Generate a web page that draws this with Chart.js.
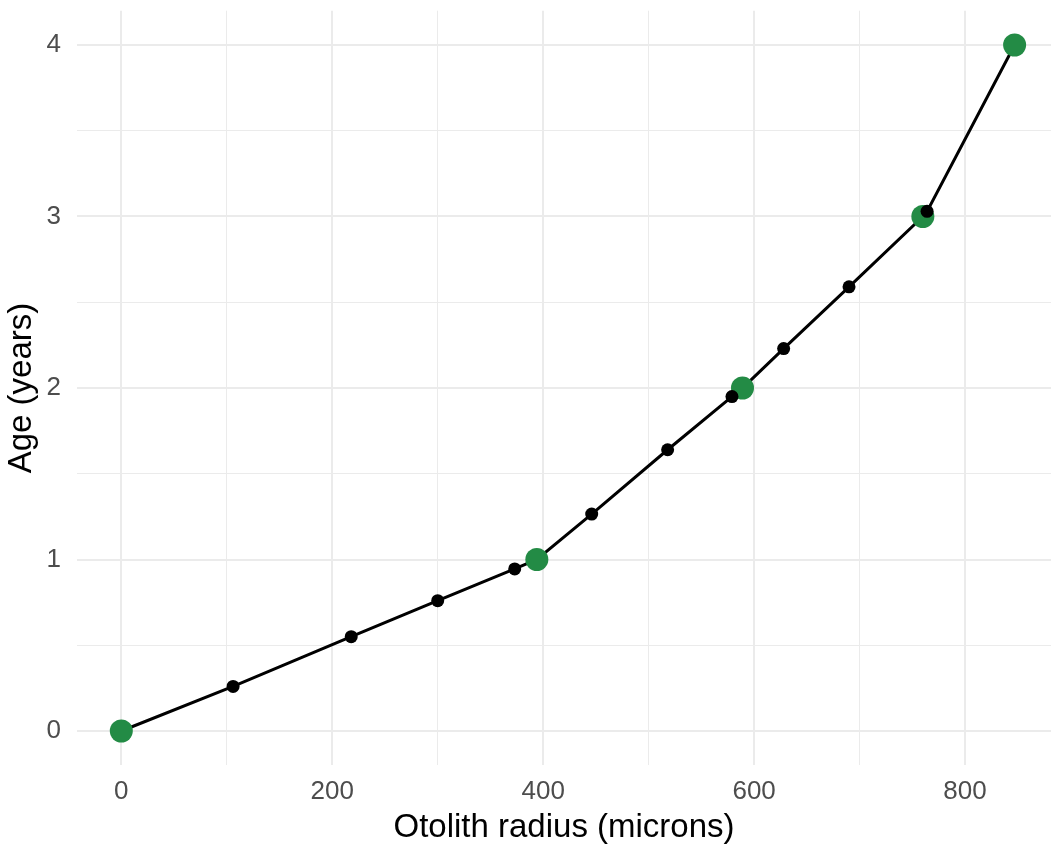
<!DOCTYPE html>
<html>
<head>
<meta charset="utf-8">
<script src="https://cdn.jsdelivr.net/npm/chart.js@4/dist/chart.umd.min.js"></script>
<style>
  html, body { margin: 0; padding: 0; background: #fff; }
  #chart { display: block; }
</style>
</head>
<body>
<canvas id="chart" width="1051" height="848"></canvas>
<script>
// Annulus measurements (green) and back-calculated points (black)
const annulusRadius = [0, 394, 589, 760, 847];
const annulusAge = [0, 1, 2, 3, 4];
const bcRadius = [106, 218, 300, 373, 446, 518, 579, 628, 690, 764];
const bcAge = [0.26, 0.55, 0.76, 0.945, 1.265, 1.64, 1.95, 2.23, 2.59, 3.03];

const xTickLabels = [0, 200, 400, 600, 800];
const yTickLabels = [0, 1, 2, 3, 4];

const annulusPoints = annulusRadius.map((r, i) => ({ x: r, y: annulusAge[i] }));
const bcPoints = bcRadius.map((r, i) => ({ x: r, y: bcAge[i] }));
// the line joins every point in order of radius
const linePoints = annulusPoints.concat(bcPoints).sort((a, b) => a.x - b.x);

const fontFamily = '"Liberation Sans", Arial, sans-serif';
const gridColor = '#EBEBEB';

new Chart(document.getElementById('chart').getContext('2d'), {
    type: 'scatter',
    data: {
        datasets: [
            {
                data: bcPoints,
                backgroundColor: '#000000',
                borderWidth: 0,
                pointRadius: 6.5,
                order: 0
            },
            {
                data: annulusPoints,
                backgroundColor: '#238B45',
                borderWidth: 0,
                pointRadius: 11.5,
                order: 1
            },
            {
                data: linePoints,
                showLine: true,
                borderColor: '#000000',
                borderWidth: 3,
                pointRadius: 0,
                order: 2
            }
        ]
    },
    options: {
        responsive: false,
        animation: false,
        devicePixelRatio: 1,
        layout: {
            autoPadding: false,
            padding: { top: 10.7, right: 0, bottom: 0, left: 0 }
        },
        plugins: {
            legend: { display: false },
            tooltip: { enabled: false }
        },
        scales: {
            x: {
                type: 'linear',
                min: -42,
                max: 881.5,
                border: { display: false },
                grid: {
                    color: gridColor,
                    drawTicks: false,
                    lineWidth: ctx => (ctx.tick && ctx.tick.value % 200 === 0) ? 2 : 1
                },
                ticks: {
                    stepSize: 100,
                    includeBounds: false,
                    autoSkip: false,
                    maxRotation: 0,
                    padding: 11,
                    color: '#4D4D4D',
                    font: { family: fontFamily, size: 26 },
                    callback: v => xTickLabels.includes(v) ? String(v) : ''
                },
                title: {
                    display: true,
                    text: 'Otolith radius (microns)',
                    color: '#000000',
                    padding: { top: 0, bottom: 0 },
                    font: { family: fontFamily, size: 33 }
                },
                afterFit: scale => {
                    scale.height = 82.7;
                    scale.paddingLeft = 0;
                    scale.paddingRight = 0;
                }
            },
            y: {
                type: 'linear',
                min: -0.2,
                max: 4.2,
                border: { display: false },
                grid: {
                    color: gridColor,
                    drawTicks: false,
                    lineWidth: ctx => (ctx.tick && Number.isInteger(ctx.tick.value)) ? 2 : 1
                },
                ticks: {
                    stepSize: 0.5,
                    includeBounds: false,
                    autoSkip: false,
                    padding: 16,
                    color: '#4D4D4D',
                    font: { family: fontFamily, size: 26 },
                    callback: v => yTickLabels.includes(v) ? String(v) : ''
                },
                title: {
                    display: true,
                    text: 'Age (years)',
                    color: '#000000',
                    padding: { top: 2, bottom: 0 },
                    font: { family: fontFamily, size: 33 }
                },
                afterFit: scale => {
                    scale.width = 77;
                    scale.paddingTop = 0;
                    scale.paddingBottom = 0;
                }
            }
        }
    }
});
</script>
</body>
</html>
